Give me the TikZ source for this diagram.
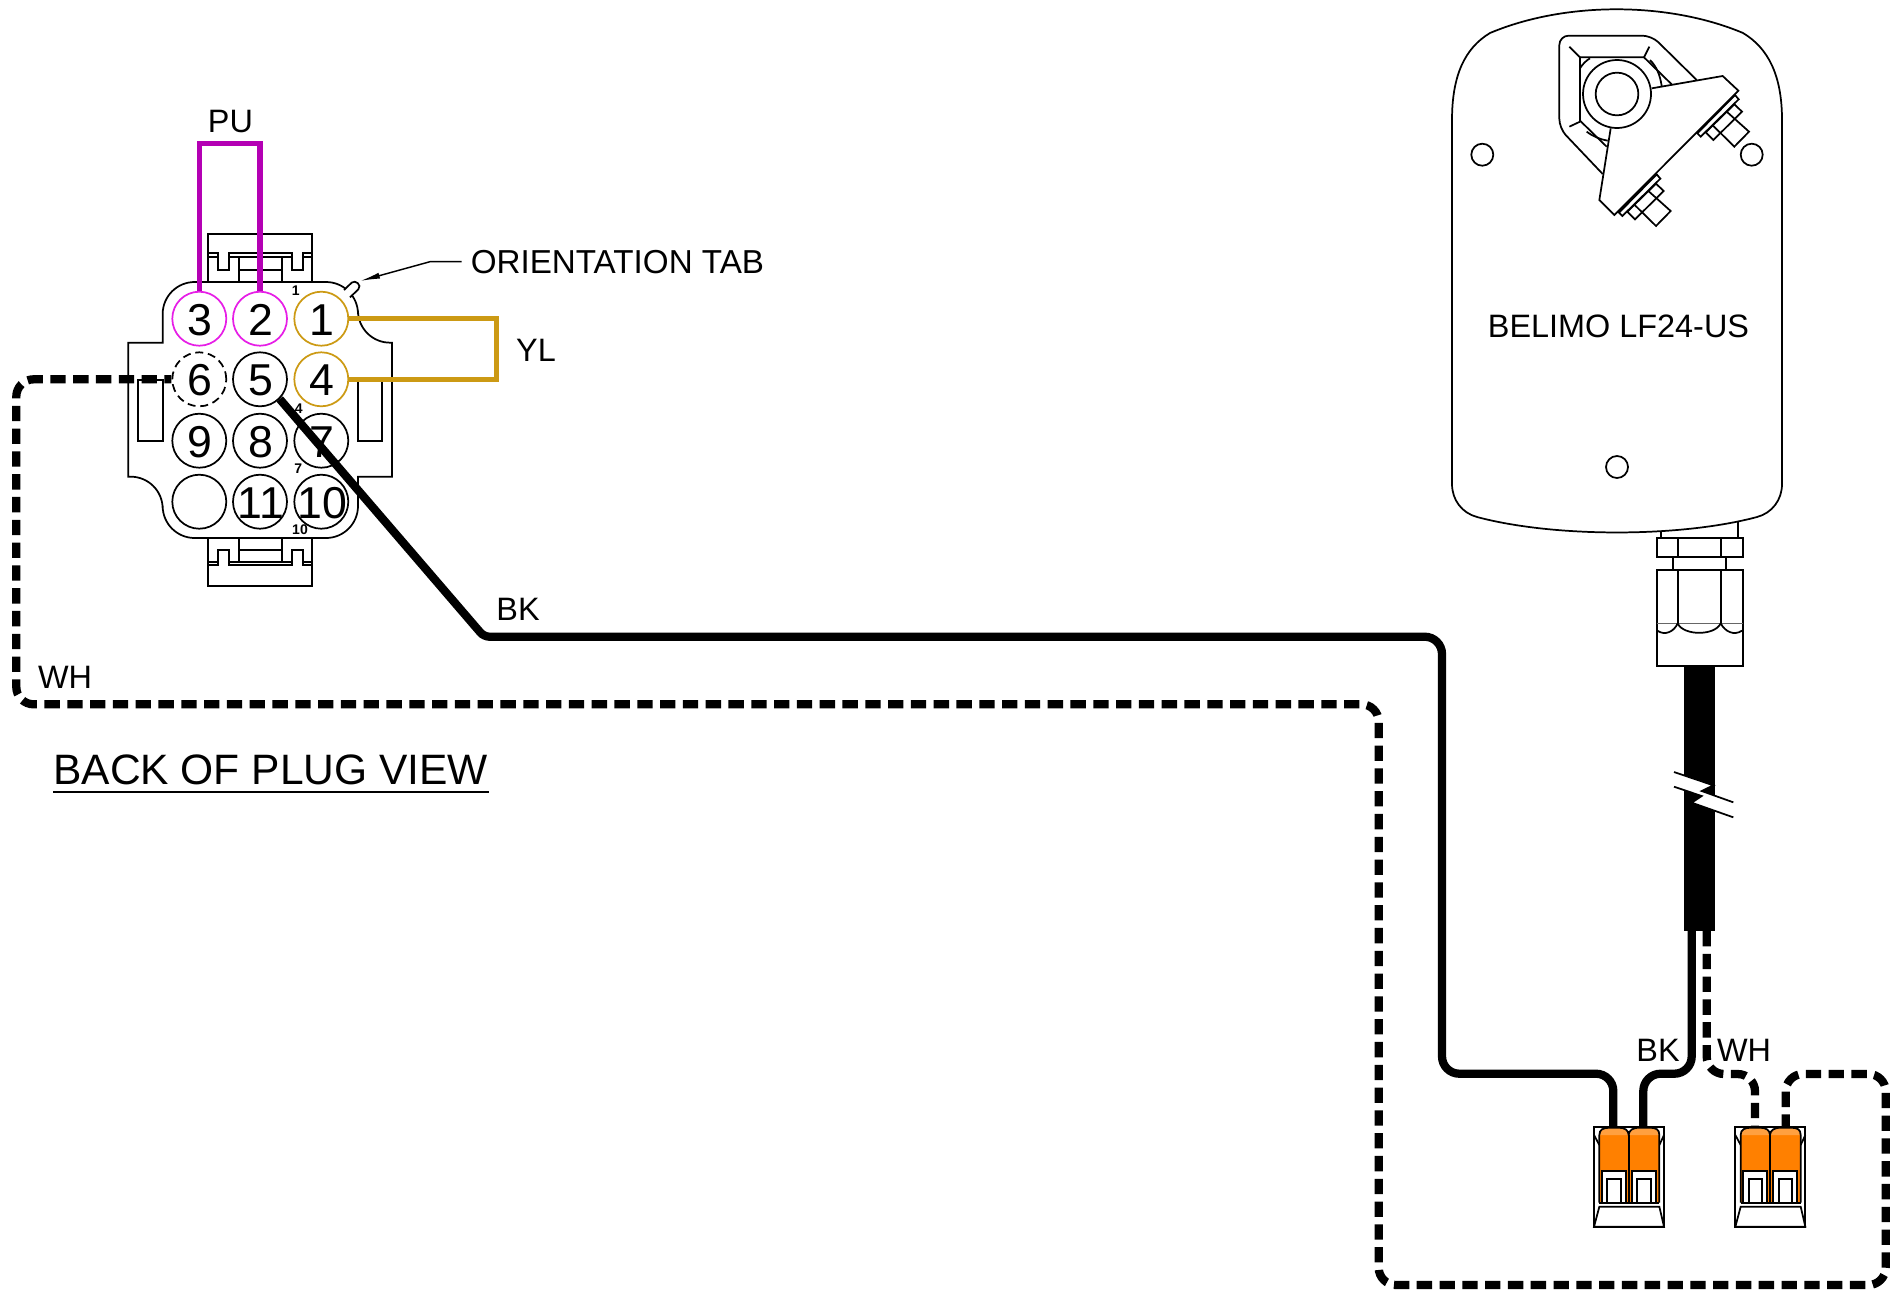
\documentclass[tikz,border=0pt]{standalone}
\usepackage{fontspec}
\setmainfont{Liberation Sans}
\usetikzlibrary{arrows.meta}
\definecolor{pupl}{HTML}{B400B4}
\definecolor{pinpu}{HTML}{E61EE6}
\definecolor{yel}{HTML}{CC9A14}
\definecolor{wagoor}{HTML}{FF8000}
\definecolor{wagolt}{HTML}{FFA040}
\newcommand{\pindigit}[1]{\makebox[0pt]{\hspace*{1.6pt}\raisebox{-.9pt}{#1}}}
\tikzset{
  outl/.style={draw=black,line width=1.3pt,line join=miter},
  pin/.style={circle,draw=black,line width=1.3pt,minimum size=40.5pt,inner sep=0pt,font=\fontsize{33.5}{34}\selectfont},
  pinyl/.style={pin,draw=yel},
  pinpur/.style={pin,draw=pinpu},
  pindash/.style={pin,dash pattern=on 6pt off 3.6pt},
  lab/.style={inner sep=0pt,font=\fontsize{24.3}{26}\selectfont},
  mini/.style={inner sep=0pt,font=\fontsize{10.5}{11}\bfseries\selectfont},
  wirepu/.style={draw=pupl,line width=3.9pt,line join=miter},
  wireyl/.style={draw=yel,line width=3.9pt,line join=miter},
  wirebk/.style={draw=black,line width=6.2pt,rounded corners=13pt},
  wirewh/.style={draw=black,line width=6.2pt,rounded corners=13pt,dash pattern=on 11.5pt off 5.6pt},
  zoomed/.style={x=.25pt,y=-.25pt}
}
\begin{document}
\begin{tikzpicture}[x=.75pt,y=-.75pt]
\useasboundingbox (0,0) rectangle (1898,1289);
% ---- plug housing
\begin{scope}[shift={(110,90)},zoomed]
  \draw[outl] (295,576)--(295,432)--(607,432)--(607,576);
  \draw[outl] (295,490)--(323,490)--(323,540)--(358,540)--(358,490)--(545,490)--(545,540)--(578,540)--(578,490)--(607,490);
  \draw[outl] (295,500)--(323,500) (358,500)--(545,500) (578,500)--(607,500);
  \draw[outl] (387,500)--(387,576) (515,500)--(515,576) (387,540)--(515,540);
  \draw[outl] (295,1344)--(295,1488)--(607,1488)--(607,1344);
  \draw[outl] (295,1425)--(323,1425)--(323,1380)--(358,1380)--(358,1425)--(545,1425)--(545,1380)--(578,1380)--(578,1425)--(607,1425);
  \draw[outl] (295,1415)--(323,1415) (358,1415)--(545,1415) (578,1415)--(607,1415);
  \draw[outl] (387,1415)--(387,1344) (515,1415)--(515,1344) (387,1380)--(515,1380);
  \draw[outl] (158,758) [rounded corners=24pt] -- (158,576) -- (744,576) -- (744,758) [sharp corners] -- (846,758) -- (846,1160) -- (744,1160) [rounded corners=24pt] -- (744,1344) -- (158,1344) -- (158,1160) [sharp corners] -- (55,1160) -- (55,758) -- cycle;
  \fill[white] (702,600)--(725,578)--(748,590)--(720,622)--cycle;
  \draw[outl] (702,600)--(725,578) .. controls (735,568) and (757,585) .. (745,598) -- (720,622);
  \draw[outl] (85,870) rectangle (158,1052);
  \draw[outl] (744,870) rectangle (817,1052);
  \node[mini] (m1) at (557,603) {1};
  \node[mini] (m4) at (566,955) {4};
  \node[mini] (m7) at (565,1135) {7};
  \node[mini] (m10) at (570,1320) {10};
\end{scope}
% ---- pins
\begin{scope}[every node/.append style={text height=22.8pt,text depth=0pt}]
\node[pinpur] (p3) at (199.3,318.7) {\pindigit{3}};
\node[pinpur] (p2) at (260,318.7) {\pindigit{2}};
\node[pinyl] (p1) at (321.3,318.7) {\pindigit{1}};
\node[pindash] (p6) at (199.3,379.3) {\pindigit{6}};
\node[pin] (p5) at (260,379.3) {\pindigit{5}};
\node[pinyl] (p4) at (321.3,379.3) {\pindigit{4}};
\node[pin] (p9) at (199.3,440.7) {\pindigit{9}};
\node[pin] (p8) at (260,440.7) {\pindigit{8}};
\node[pin] (p7) at (321.3,440.7) {\pindigit{7}};
\node[pin] (pe) at (199.3,501.7) {};
\node[pin] (p11) at (260,501.7) {\pindigit{11}};
\node[pin] (p10) at (321.3,501.7) {\pindigit{10}};
\end{scope}
% ---- jumpers
\coordinate (pua) at (199.3,143.3);
\coordinate (pub) at (260,143.3);
\draw[wirepu] (p3.north) -- (pua) -- (pub) -- (p2.north);
\coordinate (yla) at (496.7,318.7);
\coordinate (ylb) at (496.7,379.3);
\draw[wireyl] (p1.east) -- (yla) -- (ylb) -- (p4.east);
% ---- labels
\node[lab] (tpu) at (230.5,121.5) {PU};
\node[lab,anchor=west,font=\fontsize{24.9}{26}\selectfont] (ttab) at (470.5,262.5) {ORIENTATION TAB};
\node[lab] (tyl) at (536,350) {YL};
\node[lab] (tbk) at (518,609) {BK};
\node[lab] (twh) at (65,677) {WH};
\node[lab,anchor=west,font=\fontsize{31.9}{34}\selectfont] (tview) at (53,769.5) {BACK OF PLUG VIEW};
\draw[line width=1.3pt] (tview.west |- 0,792) -- (488.5,792);
\node[lab] (tbk2) at (1658,1050) {BK};
\node[lab] (twh2) at (1744,1050) {WH};
% ---- leader
\coordinate (lda) at (461.7,261.7);
\coordinate (ldb) at (430,261.7);
\coordinate (ldc) at (360,281);
\draw[line width=1.1pt,-{Latex[length=15pt,width=4.5pt]}] (lda) -- (ldb) -- (ldc);
% ---- wires
\coordinate (bkb) at (484,636.7);
\coordinate (bkc) at (1442,636.7);
\coordinate (bkd) at (1442,1073.7);
\coordinate (bke) at (1613.3,1073.7);
\coordinate (bkf) at (1613.3,1126.7);
\draw[wirebk] (p5.-45) [rounded corners=4pt] -- (bkb) [rounded corners=13pt] -- (bkc) -- (bkd) -- (bke) -- (bkf);
\coordinate (cbk) at (1691.7,931);
\coordinate (bkg) at (1691.7,1073.7);
\coordinate (bkh) at (1643.3,1073.7);
\coordinate (bki) at (1643.3,1126.7);
\draw[wirebk] (cbk) -- (bkg) -- (bkh) -- (bki);
\coordinate (wa) at (16.3,379.3);
\coordinate (wb) at (16.3,704.3);
\coordinate (wc) at (1378.7,704.3);
\coordinate (wd) at (1378.7,1285);
\coordinate (we) at (1885.7,1285);
\coordinate (wf) at (1885.7,1074);
\coordinate (wg) at (1785.7,1074);
\coordinate (wh) at (1785.7,1126.7);
\draw[wirewh,dash phase=6.2pt] (p6.west) -- (wa) -- (wb) -- (wc) -- (wd) -- (we) -- (wf) -- (wg) -- (wh);
\coordinate (cwh) at (1706.7,931);
\coordinate (wi) at (1706.7,1074);
\coordinate (wj) at (1755,1074);
\coordinate (wk) at (1755,1126.7);
\draw[wirewh] (cwh) -- (wi) -- (wj) -- (wk);
% ---- actuator body
\draw[outl,fill=white] (1452,484) -- (1452,120) .. controls (1452,75) and (1465,48) .. (1490,33)
  .. controls (1565,1.4) and (1668,1.4) .. (1743,33)
  .. controls (1768,48) and (1782,75) .. (1782,120) -- (1782,484)
  .. controls (1782,500) and (1772,513) .. (1757,517)
  .. controls (1680,537.6) and (1554,537.6) .. (1477,517)
  .. controls (1462,513) and (1452,500) .. (1452,484) -- cycle;
\node[lab] (tbel) at (1618.5,326) {BELIMO LF24-US};
\node[circle,outl,minimum size=16.5pt,inner sep=0pt] (h1) at (1482.3,154.7) {};
\node[circle,outl,minimum size=16.5pt,inner sep=0pt] (h2) at (1751.7,154.7) {};
\node[circle,outl,minimum size=16.5pt,inner sep=0pt] (h3) at (1617,467) {};
% ---- crank
\begin{scope}[shift={(1440,0)},zoomed]
  \draw[outl,rounded corners=7pt] (770,240)--(635,107)--(358,107)--(358,385)--(488,522);
  \draw[outl] (695,253)--(612,172)--(420,172)--(420,362)--(500,440);
  \draw[outl] (388,140)--(420,172) (612,172)--(628,140) (388,380)--(420,365);
  \draw[outl] (420,205) .. controls (428,192) and (438,182) .. (450,175);
  \draw[outl] (630,180) .. controls (650,200) and (660,225) .. (665,258);
  \draw[outl] (440,395) .. controls (460,410) and (480,418) .. (503,422);
  % bolts
  \foreach \sx/\sy in {0/0,-235/238}{
  \begin{scope}[shift={(\sx,\sy)}]
    \draw[outl] (883,313)--(906,335)--(820,420)--(797,397)--cycle;
    \draw[outl] (860,335)--(927,395)--(883,440)--(817,375);
    \draw[outl,fill=white] (885,285)--(896,298)--(782,410)--(772,400)--cycle;
  \end{scope}}
  % arm
  \draw[outl,fill=white] (635,265)--(848,228)--(895,272)--(523,645)--(478,600)--(512,385);
  \node[circle,outl,fill=white,minimum size=51pt,inner sep=0pt] (hub) at (531,282) {};
  \node[circle,outl,minimum size=32pt,inner sep=0pt] (hubin) at (531,282) {};
\end{scope}
% ---- fitting
\begin{scope}[shift={(1600,510)},zoomed]
  \draw[outl] (183,62)--(183,85) (414,35)--(414,85);
  \draw[outl] (170,85) rectangle (428,142);
  \draw[outl] (233,85)--(233,142) (362,85)--(362,142);
  \draw[outl] (218,142)--(218,180) (378,142)--(378,180);
  \draw[outl] (170,180) rectangle (428,468);
  \draw[outl] (233,180)--(233,340) (362,180)--(362,340);
  \draw[line width=1pt,black!60] (170,340)--(428,340);
  \draw[outl] (172,362) .. controls (195,378) and (222,365) .. (233,340)
     .. controls (250,378) and (345,378) .. (362,340)
     .. controls (375,365) and (402,378) .. (426,362);
  \fill[black] (252,468) rectangle (346,1263);
  \fill[white] (222,786)--(340,826)--(305,843)--(400,877)--(400,922)--(275,878)--(305,858)--(222,830)--cycle;
  \draw[outl] (222,786)--(340,826)--(305,843)--(400,877);
  \draw[outl] (222,830)--(305,858)--(275,878)--(400,922);
\end{scope}
% ---- wire connectors
\foreach \bx in {0,424}{
\begin{scope}[shift={(1560,1020)},zoomed,shift={(\bx,0)}]
  \draw[outl,fill=white] (102,320) rectangle (312,620);
  \draw[outl] (102,345)--(118,375) (312,345)--(298,375);
  \fill[wagoor] (118,548)--(118,345) .. controls (118,328) and (130,323) .. (150,323) -- (175,323) .. controls (195,323) and (205,330) .. (206,345) -- (206,548) -- cycle;
  \fill[wagoor] (206,548)--(206,345) .. controls (207,330) and (218,323) .. (240,323) -- (268,323) .. controls (288,323) and (298,328) .. (298,345) -- (298,548) -- cycle;
  \fill[wagolt] (118,345) .. controls (118,328) and (130,323) .. (150,323) -- (175,323) .. controls (195,323) and (205,330) .. (206,345) .. controls (207,330) and (218,323) .. (240,323) -- (268,323) .. controls (288,323) and (298,328) .. (298,345) -- cycle;
  \draw[outl] (118,548)--(118,345) .. controls (118,328) and (130,323) .. (150,323) -- (175,323) .. controls (195,323) and (205,330) .. (206,345) .. controls (207,330) and (218,323) .. (240,323) -- (268,323) .. controls (288,323) and (298,328) .. (298,345) -- (298,548);
  \draw[outl] (206,345)--(206,548);
  \draw[outl,fill=white] (125,548)--(125,453)--(198,453)--(198,548);
  \draw[outl,fill=white] (215,548)--(215,453)--(288,453)--(288,548);
  \draw[outl] (142,548)--(142,478)--(182,478)--(182,548);
  \draw[outl] (232,548)--(232,478)--(272,478)--(272,548);
  \draw[outl] (118,548)--(298,548);
  \draw[outl,fill=white] (102,620)--(118,560)--(298,560)--(312,620)--cycle;
\end{scope}}
\end{tikzpicture}
\end{document}
